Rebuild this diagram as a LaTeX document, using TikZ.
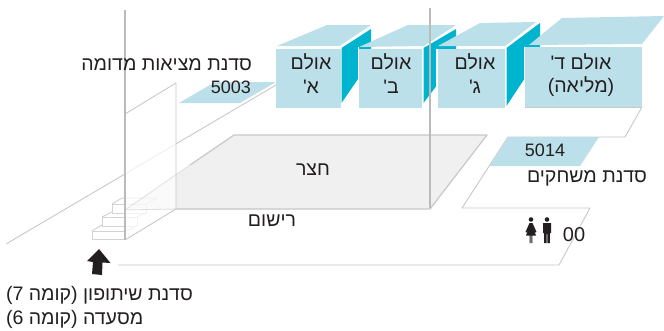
\documentclass[tikz,border=0pt]{standalone}
\usepackage{fontspec}
\setmainfont{Liberation Sans}
\newfontfamily\hebfont[Script=Hebrew,Scale=1.085]{Liberation Sans}
\TeXXeTstate=1
\newcommand{\heb}[1]{{\hebfont\beginR #1\endR}}
\definecolor{hall}{HTML}{BCE0EA}
\definecolor{hallside}{HTML}{00B3CE}
\definecolor{lineg}{HTML}{C8C8C8}
\definecolor{postg}{HTML}{BABABA}
\definecolor{court}{HTML}{F0F0F0}
\definecolor{inkc}{HTML}{231F20}
\tikzset{
  hallface/.style={fill=hall,draw=none},
  hallwing/.style={fill=hallside,draw=none},
  floorline/.style={draw=lineg,line width=0.9pt,line join=round},
  post/.style={draw=postg,line width=1.6pt},
  stairline/.style={draw=lineg!80,line width=1pt,line join=round},
  lbl/.style={text=inkc,font=\fontsize{18}{20}\selectfont,inner sep=0pt,outer sep=0pt},
  person/.style={fill=inkc,draw=none}
}
\begin{document}
\begin{tikzpicture}[x=1pt,y=-1pt]
\useasboundingbox (0,0) rectangle (664,330);
\fill[white] (0,0) rectangle (664,330);
% floors
\fill[hall] (179,103) -- (215,82) -- (276,82) -- (240,103) -- cycle;
\draw[floorline] (6,244) -- (276,85);
\path[fill=court] (234,135) -- (487,135) -- (430,209) -- (125,210) -- cycle;
\draw[floorline,line width=1.2pt] (190,165) -- (234,135) -- (487,135) -- (430,209) -- (176,209);
\draw[floorline] (642,107) -- (625,137) -- (508,137) -- (462,208) -- (590,208) -- (559,265) -- (118,265);
\fill[hall] (508,137) -- (599,137) -- (580,166) -- (490,166) -- cycle;
\draw[floorline] (525,107.5) -- (642,107.5);
% stairs
\draw[stairline] (92,231) rectangle (125,239);
\draw[stairline] (92,231) -- (102,225) (125,231) -- (137,226);
\draw[stairline] (102,217) rectangle (137,226);
\draw[stairline] (102,217) -- (112,212) (137,217) -- (146,213);
\draw[stairline] (112,204) rectangle (146,213);
\draw[stairline] (112,204) -- (122,198) -- (157,198) -- (146,204);
% glass panel
\fill[white,opacity=0.72] (125,114) -- (176,83) -- (176,209) -- (125,240) -- cycle;
\draw[floorline] (125,114) -- (176,83) -- (176,209) -- (125,240);
\draw[floorline,opacity=0.5] (190,165) -- (125,210);
\draw[floorline,opacity=0.5] (176,209) -- (125,210);
\draw[post] (125,10) -- (125,240);
% hall A
\fill[hallwing] (341.5,48) -- (371,29) -- (371,60) -- (341.5,103) -- cycle;
\fill[hallface] (277,46) -- (327,25) -- (371,25) -- (339.5,46) -- cycle;
\fill[hallface] (276,49) rectangle (341,108);
% hall B
\fill[hallwing] (423.5,48) -- (456,29) -- (456,60) -- (423.5,103) -- cycle;
\fill[white] (357.5,47) rectangle (359,108);
\fill[hallface] (359,47) -- (408,25) -- (456,25) -- (424,46) -- cycle;
\fill[hallface] (359,49) rectangle (422,108);
% hall G
\fill[hallwing] (506.5,48) -- (540,23) -- (540,55) -- (506.5,106) -- cycle;
\fill[white] (436,49) rectangle (438,108);
\fill[hallface] (438,46) -- (480,23) -- (536,22) -- (505,46) -- cycle;
\fill[hallface] (438,49) rectangle (505,108);
% hall D
\fill[white] (523.5,47) rectangle (525,108);
\fill[hallface] (529,45) -- (562,18) -- (664,16) -- (642,44) -- cycle;
\fill[hallface] (525,47) rectangle (642,107);
\draw[post] (430,8) -- (430,208);
% labels
\node[lbl,anchor=base] (a1) at (311,69) {\heb{אולם}};
\node[lbl,anchor=base] (a2) at (311,93) {\heb{א'}};
\node[lbl,anchor=base] (b1) at (391,69) {\heb{אולם}};
\node[lbl,anchor=base] (b2) at (391,93) {\heb{ב'}};
\node[lbl,anchor=base] (g1) at (475,69) {\heb{אולם}};
\node[lbl,anchor=base] (g2) at (475,93) {\heb{ג'}};
\node[lbl,anchor=base] (d1) at (581,69) {\heb{אולם ד'}};
\node[lbl,anchor=base] (d2) at (581,92) {\heb{(מליאה)}};
\node[lbl,anchor=base east] (vr) at (252,70) {\heb{סדנת מציאות מדומה}};
\node[lbl,anchor=base east] (n5003) at (251,93) {5003};
\node[lbl,anchor=base] (n5014) at (545,156) {5014};
\node[lbl,anchor=base] (yard) at (313,175) {\heb{חצר}};
\node[lbl,anchor=base] (reg) at (272,226) {\heb{רישום}};
\node[lbl,anchor=base east] (games) at (647,182) {\heb{סדנת משחקים}};
\node[lbl,anchor=base,font=\fontsize{20}{22}\selectfont] (wc) at (574,241.5) {00};
\node[lbl,anchor=base west] (share) at (6,300) {\heb{סדנת שיתופון (קומה 7)}};
\node[lbl,anchor=base west] (rest) at (6,324) {\heb{מסעדה (קומה 6)}};
% arrow
\fill[inkc] (99,249) -- (110.5,263) -- (102.5,262.5) -- (102,275) -- (92,274) -- (93,262) -- (87,261) -- cycle;
% people
\fill[person] (531,219.5) circle (2.3);
\fill[person] (529.5,223) -- (532.5,223) -- (536.5,232) -- (535.3,232.5) -- (533,228) -- (536,235.5) -- (532.3,235.5) -- (532.3,243) -- (531.3,243) -- (531.3,235.5) -- (530.7,235.5) -- (530.7,243) -- (529.7,243) -- (529.7,235.5) -- (526,235.5) -- (529,228) -- (526.7,232.5) -- (525.5,232) -- cycle;
\fill[person] (547,219.5) circle (2.3);
\fill[person] (543,223) -- (551,223) -- (551,233) -- (549.8,233) -- (549.8,243) -- (547.4,243) -- (547.4,234) -- (546.6,234) -- (546.6,243) -- (544.2,243) -- (544.2,233) -- (543,233) -- cycle;
\end{tikzpicture}
\end{document}
